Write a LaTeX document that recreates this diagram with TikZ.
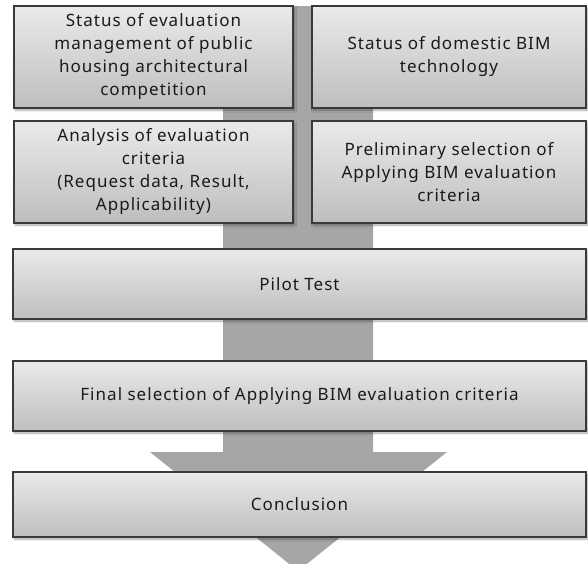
\documentclass[tikz,border=0pt]{standalone}
\usepackage{fontspec}
\setmainfont[LetterSpace=6]{Noto Sans}
\usepackage{tikz}
\usetikzlibrary{positioning, shadows.blur}
\definecolor{flowInk}{HTML}{1A1A1A}
\definecolor{flowEdge}{HTML}{3A3A3A}
\definecolor{flowTop}{HTML}{EAEAEA}
\definecolor{flowBot}{HTML}{BEBEBE}
\definecolor{flowArrow}{HTML}{A6A6A6}

\begin{document}
\begin{tikzpicture}[
    x=1pt, y=-1pt,
    stagebox/.style={rectangle, draw=flowEdge, line width=1.2pt,
        top color=flowTop, bottom color=flowBot, text=flowInk,
        align=center, inner sep=0pt, font=\fontsize{17}{23}\selectfont,
        blur shadow={shadow xshift=1.5pt, shadow yshift=-2pt,
                     shadow blur steps=6, shadow opacity=35}},
    halfbox/.style={stagebox, minimum height=102pt},
    fullbox/.style={stagebox, minimum width=573pt},
]
\clip (0,0) rectangle (588,563);

% ---- Big arrow behind the stages ----
\fill[flowArrow] (223,6) -- (373,6) -- (373,452) -- (447,452)
    -- (298,571) -- (150,452) -- (223,452) -- cycle;

% ---- Survey row ----
\node[halfbox, minimum width=279pt] (evalStatus) at (153.5,57)
    {Status of evaluation\\management of public\\housing architectural\\competition};
\node[halfbox, minimum width=274pt] (bimStatus) at (449,57)
    {Status of domestic BIM\\technology};

% ---- Analysis row ----
\node[halfbox, minimum width=279pt] (critAnalysis) at (153.5,172)
    {Analysis of evaluation\\criteria\\(Request data, Result,\\Applicability)};
\node[halfbox, minimum width=274pt] (prelimSel) at (449,172)
    {Preliminary selection of\\Applying BIM evaluation\\criteria};

% ---- Test and outcome ----
\node[fullbox, minimum height=70pt] (pilot) at (299.5,284) {Pilot Test};
\node[fullbox, minimum height=70pt] (finalSel) at (299.5,396)
    {Final selection of Applying BIM evaluation criteria};
\node[fullbox, minimum height=65pt] (concl) at (299.5,504.5) {Conclusion};

\end{tikzpicture}
\end{document}
